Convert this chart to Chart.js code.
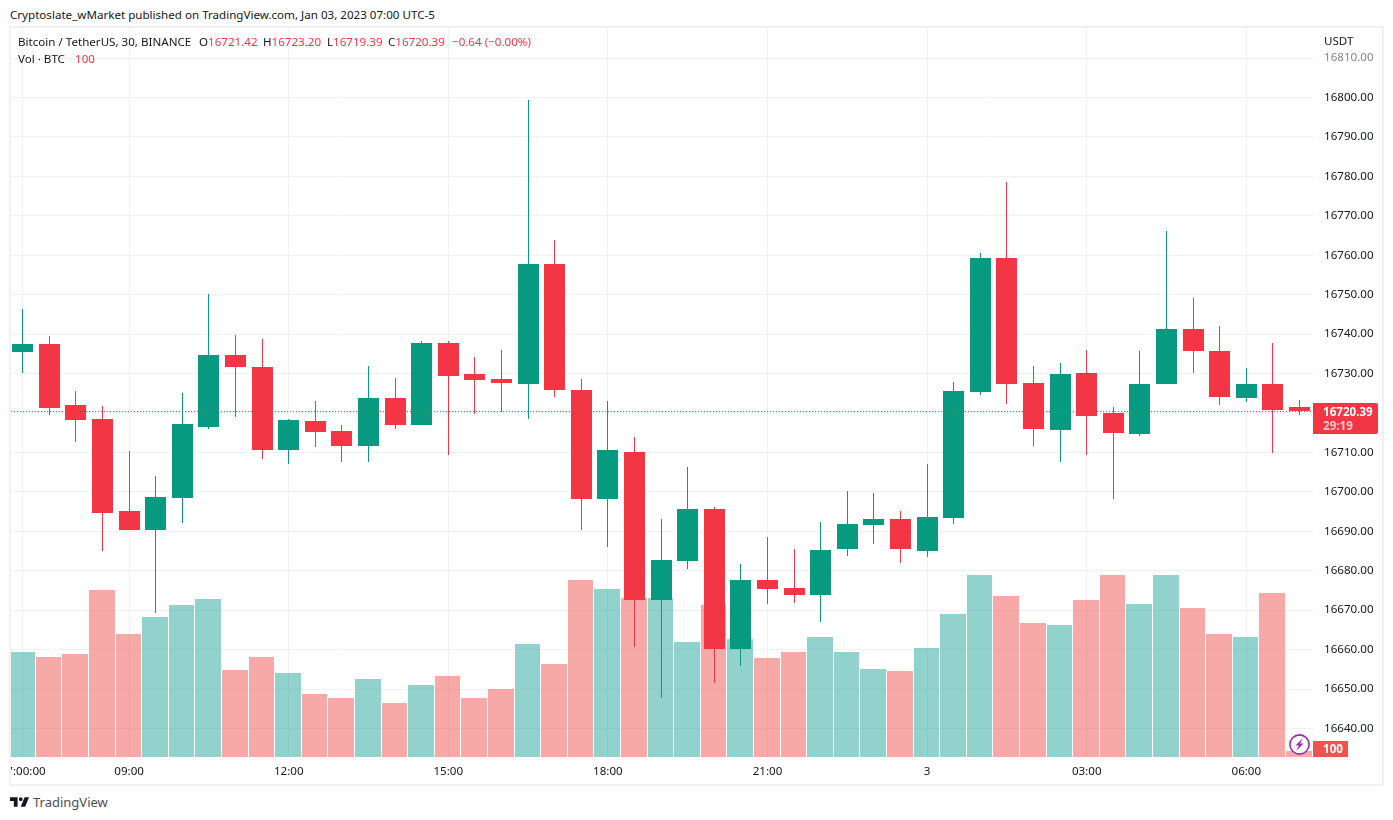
<!DOCTYPE html>
<html>
<head>
<meta charset="utf-8">
<title>BTCUSDT 30</title>
<script src="https://cdn.jsdelivr.net/npm/chart.js@4"></script>
<style>
    html, body { margin: 0; background: #fff; }
    body { width: 1393px; height: 820px; position: relative; overflow: hidden; font: 11.6px "Noto Sans", sans-serif; color: #131722; }
    #frame { position: absolute; left: 9px; top: 26px; width: 1371px; height: 756px; border: 2px solid #f0f0f5; overflow: hidden; }
    .txt { position: absolute; white-space: pre; line-height: 16px; }
    .up { color: #f23645; }
</style>
</head>
<body>
<div id="frame"><canvas id="priceChart" width="1371" height="756"></canvas></div>

<div class="txt" style="left:10px;top:7px">Cryptoslate_wMarket published on TradingView.com, Jan 03, 2023 07:00 UTC-5</div>
<div class="txt" style="left:18px;top:34px">Bitcoin / TetherUS, 30, BINANCE</div>
<div class="txt" style="left:199px;top:34px">O<span class="up">16721.42</span></div>
<div class="txt" style="left:263px;top:34px">H<span class="up">16723.20</span></div>
<div class="txt" style="left:327px;top:34px">L<span class="up">16719.39</span></div>
<div class="txt" style="left:388px;top:34px">C<span class="up">16720.39</span></div>
<div class="txt up" style="left:452px;top:34px">−0.64 (−0.00%)</div>
<div class="txt" style="left:18px;top:51px">Vol · BTC</div>
<div class="txt up" style="left:75px;top:51px">100</div>
<div class="txt" style="left:1324px;top:33px">USDT</div>

<svg style="position:absolute;left:1288px;top:733px" width="23" height="23" viewBox="0 0 23 23">
    <circle cx="11.5" cy="11.5" r="9.6" fill="#fff" stroke="#9c27b0" stroke-width="1.6"/>
    <path d="M15 5 L7.5 12.5 H11 L8 18 L15.5 10.5 H12 Z" fill="#9c27b0"/>
</svg>
<svg style="position:absolute;left:10px;top:797px" width="19" height="10" viewBox="2 6 30 15">
    <path fill="#131722" d="M14 6H2v6h6v9h6V6zm12 15h-7l6-15h7l-6 15zm-7-9a3 3 0 1 0 0-6 3 3 0 0 0 0 6z"/>
</svg>
<div class="txt" style="left:33px;top:794px;font-size:13px;color:#4a4e59">TradingView</div>

<script>
const opens = [16735.47, 16737.50, 16722.03, 16718.48, 16695.16, 16690.34, 16698.45, 16716.45, 16734.71, 16731.67,
    16710.62, 16717.98, 16715.44, 16711.64, 16723.81, 16716.96, 16737.75, 16729.89, 16728.62, 16727.36,
    16757.78, 16725.84, 16698.20, 16710.12, 16672.59, 16682.48, 16695.66, 16660.17, 16677.66, 16675.63,
    16673.86, 16685.52, 16691.61, 16693.13, 16685.01, 16693.38, 16725.33, 16759.30, 16727.61, 16715.69,
    16730.15, 16720.00, 16714.68, 16727.36, 16741.30, 16735.72, 16723.81, 16727.36, 16721.42]
const highs = [16746.37, 16739.53, 16725.58, 16721.78, 16710.37, 16704.03, 16725.07, 16750.18, 16739.78, 16738.77,
    16718.48, 16723.05, 16716.96, 16731.92, 16728.88, 16738.26, 16738.26, 16734.20, 16735.98, 16799.36,
    16763.87, 16728.62, 16723.05, 16713.92, 16693.13, 16706.31, 16696.17, 16681.72, 16688.56, 16685.52,
    16692.37, 16700.23, 16699.72, 16695.16, 16707.07, 16727.86, 16760.57, 16778.57, 16731.92, 16732.68,
    16735.98, 16721.53, 16735.72, 16766.15, 16749.16, 16742.06, 16731.41, 16737.75, 16723.20]
const lows = [16730.15, 16719.50, 16712.65, 16685.01, 16690.34, 16669.29, 16692.11, 16715.95, 16718.99, 16708.34,
    16707.07, 16711.38, 16707.58, 16707.58, 16715.95, 16716.96, 16709.35, 16719.75, 16720.26, 16718.48,
    16724.06, 16690.34, 16686.03, 16660.67, 16647.74, 16680.45, 16651.55, 16655.86, 16671.58, 16671.83,
    16667.01, 16683.75, 16686.79, 16681.97, 16683.49, 16691.86, 16724.57, 16722.29, 16711.64, 16707.58,
    16709.35, 16698.20, 16714.17, 16727.36, 16730.15, 16722.03, 16722.79, 16709.86, 16719.39]
const closes = [16737.50, 16721.27, 16718.23, 16694.65, 16690.34, 16698.71, 16717.21, 16734.71, 16731.67, 16710.62,
    16718.23, 16715.19, 16711.64, 16723.81, 16716.96, 16737.75, 16729.39, 16728.37, 16727.61, 16757.78,
    16725.84, 16698.20, 16710.62, 16672.59, 16682.73, 16695.66, 16660.17, 16677.66, 16675.38, 16673.86,
    16685.27, 16691.86, 16693.13, 16685.52, 16693.63, 16725.58, 16759.30, 16727.36, 16715.95, 16729.89,
    16719.24, 16714.93, 16727.36, 16741.30, 16735.72, 16724.06, 16727.36, 16720.76, 16720.39]
const volumes = [1750, 1667, 1717, 2783, 2050, 2333, 2533, 2633, 1450, 1667,
    1400, 1050, 983, 1300, 900, 1200, 1350, 983, 1133, 1883,
    1550, 2950, 2800, 2650, 2650, 1917, 2533, 1967, 1650, 1750,
    2000, 1750, 1467, 1433, 1817, 2383, 3033, 2683, 2233, 2200,
    2617, 3033, 2550, 3033, 2483, 2050, 2000, 2733, 100]

const timeTicks = [0, 4, 10, 16, 22, 28, 34, 40, 46]
const timeLabels = ['07:00:00', '09:00', '12:00', '15:00', '18:00', '21:00', '3', '03:00', '06:00']
const lastPrice = 16720.39
const lastVolume = 100
const countdown = '29:19'

const GREEN = '#089981'
const RED = '#f23645'
const VOL_GREEN = 'rgba(38,166,154,0.5)'
const VOL_RED = 'rgba(239,83,80,0.5)'
const GRID = '#f0f0f3'
const xMin = -0.44
const xMax = 48.507

Chart.defaults.font.family = '"Noto Sans", sans-serif'
Chart.defaults.font.size = 11.6
Chart.defaults.color = '#131722'

const isUp = closes.map((c, i) => c >= opens[i])
const idx = closes.map((c, i) => i)

// canvas blurs 1px wicks on fractional x, so snap the finished bars to whole pixels
const snapBars = {
    id: 'snapBars',
    afterDatasetsUpdate(chart) {
        const step = chart.scales.x.getPixelForValue(1) - chart.scales.x.getPixelForValue(0)
        chart.data.datasets.forEach((ds, n) => {
            if (ds.type === 'line') return
            chart.getDatasetMeta(n).data.forEach((bar) => {
                if (ds.label === 'Vol') {
                    const left = Math.floor(bar.x - 13)
                    const right = Math.floor(bar.x + step - 13) - 1
                    bar.x = (left + right) / 2
                    bar.width = right - left
                } else {
                    bar.x = Math.floor(bar.x) + 0.5
                }
                bar.y = Math.round(bar.y)
                bar.base = Math.round(bar.base)
            })
        })
    }
}

const lastTags = {
    id: 'lastTags',
    afterDraw(chart) {
        const ctx = chart.ctx
        const left = chart.chartArea.right
        const y = chart.scales.y.getPixelForValue(lastPrice)
        ctx.save()
        ctx.fillStyle = RED
        ctx.beginPath()
        ctx.roundRect(left, y - 8.5, 65, 31, [0, 2, 2, 0])
        ctx.fill()
        ctx.textBaseline = 'middle'
        ctx.textAlign = 'left'
        ctx.font = 'bold 11.6px "Noto Sans", sans-serif'
        ctx.fillStyle = '#fff'
        ctx.fillText(lastPrice.toFixed(2), left + 10, y + 1)
        ctx.fillStyle = '#fcc6cb'
        ctx.fillText(countdown, left + 10, y + 15)

        const volY = chart.scales.yVol.getPixelForValue(0)
        ctx.fillStyle = '#ef5350'
        ctx.fillRect(left, volY - 16, 35, 16)
        ctx.fillStyle = '#fff'
        ctx.fillText(String(lastVolume), left + 10, volY - 7)
        ctx.restore()
    }
}

const data = {
    datasets: [
        {
            label: 'Last',
            type: 'line',
            order: 1,
            yAxisID: 'y',
            data: [{ x: xMin, y: lastPrice }, { x: xMax, y: lastPrice }],
            borderColor: RED,
            borderWidth: 1,
            borderDash: [1, 2],
            pointRadius: 0
        },
        {
            label: 'Body',
            order: 2,
            yAxisID: 'y',
            grouped: false,
            barThickness: 21,
            inflateAmount: 0,
            data: idx.map((i) => ({ x: i, y: [opens[i], closes[i]] })),
            backgroundColor: isUp.map((up) => up ? GREEN : RED)
        },
        {
            label: 'Wick',
            order: 3,
            yAxisID: 'y',
            grouped: false,
            barThickness: 1,
            inflateAmount: 0,
            data: idx.map((i) => ({ x: i, y: [lows[i], highs[i]] })),
            backgroundColor: isUp.map((up) => up ? GREEN : RED)
        },
        {
            label: 'Vol',
            order: 4,
            yAxisID: 'yVol',
            grouped: false,
            barThickness: 26,
            inflateAmount: 0,
            data: idx.map((i) => ({ x: i, y: volumes[i] })),
            backgroundColor: isUp.map((up) => up ? VOL_GREEN : VOL_RED)
        }
    ]
}

const options = {
    responsive: false,
    animation: false,
    events: [],
    layout: { padding: 0 },
    plugins: {
        legend: { display: false },
        tooltip: { enabled: false }
    },
    scales: {
        x: {
            type: 'linear',
            offset: false,
            min: xMin,
            max: xMax,
            border: { display: false },
            grid: { color: GRID, offset: false, drawTicks: false },
            afterBuildTicks: (scale) => { scale.ticks = timeTicks.map((value) => ({ value })) },
            afterFit: (scale) => {
                scale.height = 27
                scale.paddingLeft = 0
                scale.paddingRight = 0
            },
            ticks: {
                autoSkip: false,
                maxRotation: 0,
                padding: 8,
                callback: (v) => timeLabels[timeTicks.indexOf(v)]
            }
        },
        y: {
            position: 'right',
            min: 16632.77,
            max: 16817.62,
            border: { display: false },
            grid: { color: GRID, drawTicks: false },
            afterFit: (scale) => {
                scale.width = 69
                scale.paddingTop = 0
                scale.paddingBottom = 0
            },
            ticks: {
                stepSize: 10,
                includeBounds: false,
                padding: 11,
                color: (c) => c.tick.value === 16810 ? '#80838c' : '#131722',
                callback: (v) => v.toFixed(2)
            }
        },
        yVol: {
            display: false,
            min: 0,
            max: 12150
        }
    }
}

new Chart('priceChart', { type: 'bar', data, options, plugins: [snapBars, lastTags] })
</script>
</body>
</html>
